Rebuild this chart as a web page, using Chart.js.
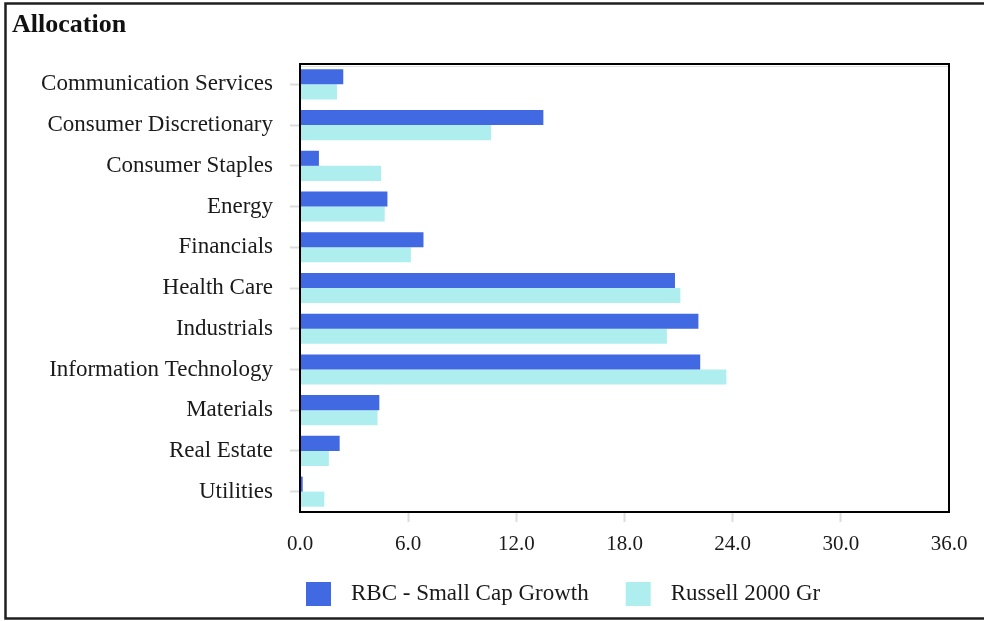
<!DOCTYPE html>
<html>
<head>
<meta charset="utf-8">
<script src="https://cdn.jsdelivr.net/npm/chart.js@4.4.1/dist/chart.umd.min.js"></script>
<style>
  html, body { margin: 0; padding: 0; background: #fff; overflow: hidden; }
  #c { display: block; }
</style>
</head>
<body>
<canvas id="c" width="984" height="621"></canvas>
<script>
const titleText = "Allocation";
const categories = [
  "Communication Services",
  "Consumer Discretionary",
  "Consumer Staples",
  "Energy",
  "Financials",
  "Health Care",
  "Industrials",
  "Information Technology",
  "Materials",
  "Real Estate",
  "Utilities"
];
const seriesNames = ["RBC - Small Cap Growth", "Russell 2000 Gr"];
const rbcValues = [2.4, 13.5, 1.05, 4.85, 6.85, 20.8, 22.1, 22.2, 4.4, 2.2, 0.15];
const russellValues = [2.05, 10.6, 4.5, 4.7, 6.15, 21.1, 20.35, 23.65, 4.3, 1.6, 1.35];
const xTicks = [0, 6, 12, 18, 24, 30, 36];
const seriesColors = ["#4169E1", "#AFEEEE"];

const SERIF = "'Liberation Serif', 'DejaVu Serif', serif";

const framePlugin = {
  id: 'frame',
  beforeDraw(chart) {
    const ctx = chart.ctx;
    ctx.save();
    ctx.fillStyle = '#ffffff';
    ctx.fillRect(0, 0, chart.width, chart.height);
    // outer frame (left, top, bottom; right edge runs off the picture)
    ctx.strokeStyle = '#1f1f1f';
    ctx.lineWidth = 2.5;
    ctx.beginPath();
    ctx.moveTo(chart.width + 10, 3.5);
    ctx.lineTo(5.5, 3.5);
    ctx.lineTo(5.5, 618.5);
    ctx.lineTo(chart.width + 10, 618.5);
    ctx.stroke();
    // title
    ctx.fillStyle = '#111';
    ctx.font = "bold 26px " + SERIF;
    ctx.textAlign = 'left';
    ctx.textBaseline = 'alphabetic';
    ctx.fillText(titleText, 12, 32);
    ctx.restore();
  },
  afterDraw(chart) {
    const ctx = chart.ctx;
    const a = chart.chartArea;
    ctx.save();
    // faint shadow under top border
    ctx.strokeStyle = '#e0e0e0';
    ctx.lineWidth = 1;
    ctx.beginPath();
    ctx.moveTo(a.left, a.top + 2.5);
    ctx.lineTo(a.right, a.top + 2.5);
    ctx.stroke();
    // plot frame
    ctx.strokeStyle = '#000';
    ctx.lineWidth = 2;
    ctx.strokeRect(a.left, a.top, a.right - a.left, a.bottom - a.top);
    // legend
    ctx.font = "23px " + SERIF;
    ctx.textAlign = 'left';
    ctx.textBaseline = 'middle';
    let x = 306;
    const yMid = 594;
    chart.data.datasets.forEach((ds) => {
      ctx.fillStyle = ds.backgroundColor;
      ctx.fillRect(x, yMid - 12, 25, 24);
      ctx.fillStyle = '#1a1a1a';
      ctx.fillText(ds.label, x + 45, yMid);
      x = x + 45 + ctx.measureText(ds.label).width + 37;
    });
    ctx.restore();
  }
};

new Chart(document.getElementById('c'), {
  type: 'bar',
  data: {
    labels: categories,
    datasets: [
      { label: seriesNames[0], data: rbcValues, backgroundColor: seriesColors[0] },
      { label: seriesNames[1], data: russellValues, backgroundColor: seriesColors[1] }
    ]
  },
  options: {
    indexAxis: 'y',
    responsive: false,
    animation: false,
    devicePixelRatio: 1,
    categoryPercentage: 0.74,
    barPercentage: 1.0,
    layout: { padding: { top: 64, right: 35, left: 0, bottom: 0 } },
    plugins: {
      legend: { display: false },
      title: { display: false },
      tooltip: { enabled: false }
    },
    scales: {
      x: {
        type: 'linear',
        min: xTicks[0],
        max: xTicks[xTicks.length - 1],
        afterFit(s) { s.height = 109; },
        afterBuildTicks(s) { s.ticks = xTicks.map(v => ({ value: v })); },
        border: { display: false },
        grid: {
          drawOnChartArea: false,
          drawTicks: true,
          tickLength: 10,
          tickWidth: 2,
          tickColor: (c) => (c.index === 0 || c.index === xTicks.length - 1) ? 'rgba(0,0,0,0)' : '#dcdcdc'
        },
        ticks: {
          padding: 10,
          color: '#1a1a1a',
          font: { family: SERIF, size: 21 },
          callback: (v) => Number(v).toFixed(1),
          maxRotation: 0
        }
      },
      y: {
        afterFit(s) { s.width = 300; },
        border: { display: false },
        grid: {
          offset: false,
          drawOnChartArea: false,
          drawTicks: true,
          tickLength: 10,
          tickWidth: 2,
          tickColor: '#dcdcdc'
        },
        ticks: {
          padding: 17,
          color: '#1a1a1a',
          font: { family: SERIF, size: 23 }
        }
      }
    }
  },
  plugins: [framePlugin]
});
</script>
</body>
</html>
